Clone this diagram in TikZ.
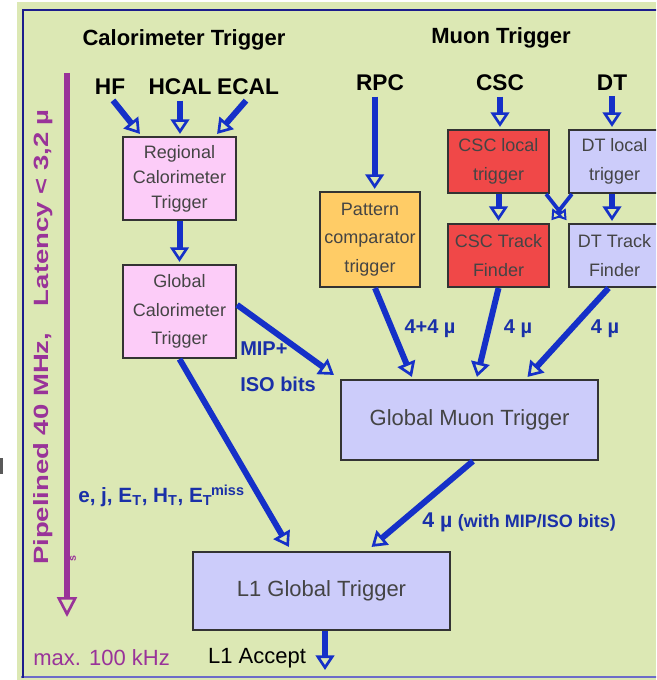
\documentclass[tikz,border=0pt]{standalone}
\usepackage{fontspec}
\setmainfont{Liberation Sans}
\usetikzlibrary{arrows.meta}
\definecolor{bg}{HTML}{DCE8B4}
\definecolor{navy}{HTML}{1C1C8C}
\definecolor{framelight}{HTML}{6C6CC8}
\definecolor{arrblue}{HTML}{1530C8}
\definecolor{labblue}{HTML}{1A30A8}
\definecolor{purp}{HTML}{993399}
\definecolor{pinkbox}{HTML}{FCCCF8}
\definecolor{orangebox}{HTML}{FFCC66}
\definecolor{redbox}{HTML}{F04848}
\definecolor{lavbox}{HTML}{CCCCFA}
\definecolor{boxline}{HTML}{333333}
\definecolor{boxtext}{HTML}{444444}
\begin{document}
\begin{tikzpicture}[x=0.75pt,y=-0.75pt,
  box/.style={draw=boxline, line width=1.6pt, inner sep=0pt, align=center, text=boxtext,
              font=\fontsize{13.5}{21.5}\selectfont},
  titletext/.style={font=\fontsize{16.5}{18}\selectfont\bfseries, text=black, inner sep=1pt},
  srctext/.style={font=\fontsize{17}{19}\selectfont\bfseries, text=black, inner sep=1pt},
  lab/.style={font=\fontsize{15}{17}\selectfont\bfseries, text=labblue, inner sep=0pt},
  arr/.style={draw=arrblue, line width=4.5pt,
              -{Triangle[length=11pt,width=14pt,fill=bg,line width=2pt]}},
  thinarr/.style={draw=arrblue, line width=2.8pt,
              -{Triangle[length=7.5pt,width=9.5pt,fill=bg,line width=1.5pt]}},
  purparr/.style={draw=purp, line width=4.5pt,
              -{Triangle[length=15pt,width=15pt,fill=bg,line width=2pt]}},
  plaintext/.style={font=\fontsize{16.5}{18}\selectfont, inner sep=0pt}
]
\useasboundingbox (0,0) rectangle (656,680);
\clip (0,0) rectangle (656,680);
\fill[white] (0,0) rectangle (656,680);
\fill[bg] (17,2) rectangle (656,680);
\fill[black!65] (0,458) rectangle (3,474);
% frame
\draw[framelight, line width=1.2pt] (21,677) -- (660,677);
\draw[navy, line width=2pt] (23,678) -- (23,10) -- (660,10);

% titles
\node[titletext] (ctitle) at (184,40) {Calorimeter Trigger};
\node[titletext] (mtitle) at (501,38) {Muon Trigger};

% sources
\node[srctext] (hf) at (110,87) {HF};
\node[srctext] (hcal) at (180,87) {HCAL};
\node[srctext] (ecal) at (248,87) {ECAL};
\node[srctext] (rpc) at (380,83) {RPC};
\node[srctext] (csc) at (500,83) {CSC};
\node[srctext] (dt) at (612,83) {DT};

% boxes
\node[box, fill=pinkbox, minimum width=84.75pt, minimum height=62.25pt,
      font=\fontsize{13.5}{18.75}\selectfont] (reg) at (179.5,178.5)
      {Regional\\Calorimeter\\Trigger};
\node[box, fill=pinkbox, minimum width=84.75pt, minimum height=69.75pt] (gcal) at (179.5,311.5)
      {Global\\Calorimeter\\Trigger};
\node[box, fill=orangebox, minimum width=75pt, minimum height=71.25pt] (pat) at (370,239.5)
      {Pattern\\comparator\\trigger};
\node[box, fill=redbox, minimum width=75.75pt, minimum height=47.25pt] (cscl) at (498.5,161.5)
      {CSC local\\trigger};
\node[box, fill=redbox, minimum width=75.75pt, minimum height=47.25pt] (csctf) at (498.5,255.5)
      {CSC Track\\Finder};
\node[box, fill=lavbox, minimum width=68.25pt, minimum height=47.25pt] (dtl) at (614.5,161.5)
      {DT local\\trigger};
\node[box, fill=lavbox, minimum width=68.25pt, minimum height=47.25pt] (dttf) at (614.5,255.5)
      {DT Track\\Finder};
\node[box, fill=lavbox, minimum width=192.75pt, minimum height=60pt,
      font=\fontsize{16.5}{19}\selectfont] (gmt) at (469.5,420) {Global Muon Trigger};
\node[box, fill=lavbox, minimum width=192.75pt, minimum height=58.5pt,
      font=\fontsize{16.5}{19}\selectfont] (l1) at (321.5,591) {L1 Global Trigger};

% calorimeter arrows
\draw[arr] ([xshift=2.25pt,yshift=-3pt]hf.south) -- ([xshift=13.5pt,yshift=1.5pt]reg.north west);
\draw[arr] ([yshift=-3pt]hcal.south) -- ([yshift=1.5pt]hcal.south |- reg.north);
\draw[arr] ([xshift=-1.5pt,yshift=-3pt]ecal.south) -- ([xshift=-15pt,yshift=1.5pt]reg.north east);
\draw[arr] (reg.south) -- ([yshift=1.5pt]gcal.north);

% muon arrows
\draw[arr] ([xshift=-4pt,yshift=-3pt]rpc.south) -- ([xshift=-4pt,yshift=1.5pt]rpc.south |- pat.north);
\draw[arr] ([yshift=-3pt]csc.south) -- ([yshift=1.5pt]csc.south |- cscl.north);
\draw[arr] ([yshift=-3pt]dt.south) -- ([yshift=1.5pt]dt.south |- dtl.north);
\draw[arr] (cscl.south) -- ([yshift=1.5pt]csctf.north);
\draw[arr] (dt.south |- dtl.south) -- ([yshift=1.5pt]dt.south |- dttf.north);
\draw[thinarr] ([xshift=-3pt]cscl.south east) -- ([xshift=-1pt,yshift=2pt]dttf.north west);
\draw[thinarr] ([xshift=3pt]dtl.south west) -- ([xshift=1pt,yshift=2pt]csctf.north east);

% to global muon trigger
\draw[arr] ([xshift=3.75pt]pat.south) -- ([xshift=54pt,yshift=1.5pt]gmt.north west);
\draw[arr] (csctf.south) -- ([xshift=5.6pt,yshift=1.5pt]gmt.north);
\draw[arr] ([xshift=-4.5pt]dttf.south) -- ([xshift=43.5pt,yshift=1.5pt]gmt.north);
\draw[arr] ([yshift=5pt]gcal.east) -- ([xshift=-4.5pt,yshift=3pt]gmt.north west);

% to L1
\draw[arr] (gcal.south) -- ([xshift=72.75pt,yshift=3pt]l1.north west);
\draw[arr] ([xshift=2.6pt]gmt.south) -- ([xshift=37.5pt,yshift=3pt]l1.north);
\coordinate (acc) at (325,670);
\draw[arr] (l1.south -| acc) -- (acc);

% labels
\node[lab] (l44) at (430,329) {4+4 µ};
\node[lab] (l4a) at (518,329) {4 µ};
\node[lab] (l4b) at (605,329) {4 µ};
\node[lab, anchor=west] (lmip) at (240,349) {MIP+};
\node[lab, anchor=west] (liso) at (240,384) {ISO bits};
\node[lab, anchor=west, font=\fontsize{15.5}{18}\selectfont\bfseries] (lej) at (78,496)
  {e, j, E\textsubscript{T}, H\textsubscript{T}, E\textsubscript{T}\kern-1pt\textsuperscript{miss}};
\node[lab, anchor=west] (lwith) at (422,522)
  {{\fontsize{16}{18}\selectfont 4 µ} {\fontsize{13.5}{16}\selectfont (with MIP/ISO bits)}};

\node[plaintext, text=black] (acctext) at (257,658) {L1 Accept};
\node[plaintext, text=purp, anchor=west] (maxtext) at (33,658) {max. 100 kHz};

% latency arrow
\coordinate (ptop) at (67,73);
\coordinate (pbot) at (67,617);
\draw[purparr] (ptop) -- (pbot);
\node[text=purp, rotate=90, inner sep=0pt, font=\fontsize{15.5}{17}\selectfont\bfseries] (lat) at (43,337)
  {\scalebox{1.33}[1]{Pipelined 40 MHz,\hspace{15pt}Latency < 3,2 µ}};
\node[text=purp, rotate=90, inner sep=0pt, font=\fontsize{8}{9}\selectfont\bfseries] (ss) at (73,559) {s};
\end{tikzpicture}
\end{document}
